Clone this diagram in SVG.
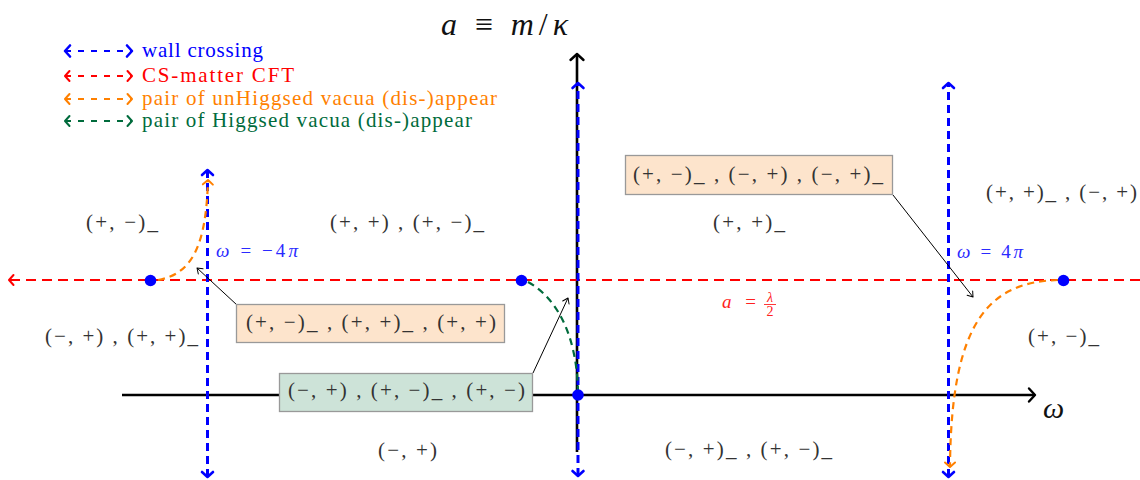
<svg xmlns="http://www.w3.org/2000/svg" width="1140" height="480" viewBox="0 0 1140 480">
<style>
.lab{font-family:"Liberation Serif","Times New Roman",serif;font-size:21px;fill:#333}
.leg{font-family:"Liberation Serif","Times New Roman",serif;font-size:21px}
.mth{font-family:"Liberation Serif","Times New Roman",serif}
.blue{stroke:#0000ff;stroke-width:3;stroke-dasharray:8 5;fill:none}
.red{stroke:#ff0000;stroke-width:2;stroke-dasharray:10 6;fill:none}
.orange{stroke:#ff8000;stroke-width:2.2;stroke-dasharray:7 5;fill:none}
.green{stroke:#006b3c;stroke-width:2.2;stroke-dasharray:7 5;fill:none}
.legline{stroke-width:2;stroke-dasharray:6 7}
.axis{stroke:#000;stroke-width:2.6;fill:none}
.ann{stroke:#000;stroke-width:1;fill:none}
.box1{fill:#fde4cc;stroke:#999;stroke-width:1.3}
.box2{fill:#cde3d8;stroke:#999;stroke-width:1.3}
.dot{fill:#0000ff}
</style>
<defs>
<marker id="mB" markerUnits="userSpaceOnUse" markerWidth="20" markerHeight="20" viewBox="-10 -10 20 20" refX="0" refY="0" orient="auto-start-reverse" overflow="visible"><path d="M-5,-5.5 L0,0 L-5,5.5" fill="none" stroke="#0000ff" stroke-width="2.6" stroke-linecap="round" stroke-linejoin="round"/></marker>
<marker id="mR" markerUnits="userSpaceOnUse" markerWidth="20" markerHeight="20" viewBox="-10 -10 20 20" refX="0" refY="0" orient="auto-start-reverse" overflow="visible"><path d="M-4.5,-5 L0,0 L-4.5,5" fill="none" stroke="#ff0000" stroke-width="2" stroke-linecap="round" stroke-linejoin="round"/></marker>
<marker id="mO" markerUnits="userSpaceOnUse" markerWidth="20" markerHeight="20" viewBox="-10 -10 20 20" refX="0" refY="0" orient="auto-start-reverse" overflow="visible"><path d="M-4.5,-5 L0,0 L-4.5,5" fill="none" stroke="#ff8000" stroke-width="2" stroke-linecap="round" stroke-linejoin="round"/></marker>
<marker id="mG" markerUnits="userSpaceOnUse" markerWidth="20" markerHeight="20" viewBox="-10 -10 20 20" refX="0" refY="0" orient="auto-start-reverse" overflow="visible"><path d="M-4.5,-5 L0,0 L-4.5,5" fill="none" stroke="#006b3c" stroke-width="2" stroke-linecap="round" stroke-linejoin="round"/></marker>
<marker id="mK" markerUnits="userSpaceOnUse" markerWidth="20" markerHeight="20" viewBox="-10 -10 20 20" refX="0" refY="0" orient="auto" overflow="visible"><path d="M-6,-6.5 L0,0 L-6,6.5" fill="none" stroke="#000" stroke-width="2.4" stroke-linecap="round" stroke-linejoin="round"/></marker>
<marker id="mT" markerUnits="userSpaceOnUse" markerWidth="20" markerHeight="20" viewBox="-10 -10 20 20" refX="0" refY="0" orient="auto" overflow="visible"><path d="M-5,-3.5 L0,0 L-5,3.5" fill="none" stroke="#000" stroke-width="1" stroke-linecap="round" stroke-linejoin="round"/></marker>
</defs>

<g id="legend">
  <line class="blue legline" x1="65" y1="51" x2="132" y2="51" marker-start="url(#mB)" marker-end="url(#mB)"/>
  <text class="leg" x="142" y="57" fill="#0000ff" textLength="121" lengthAdjust="spacing">wall crossing</text>
  <line class="red legline" x1="65" y1="76" x2="132" y2="76" marker-start="url(#mR)" marker-end="url(#mR)"/>
  <text class="leg" x="142" y="82" fill="#ff0000" textLength="152" lengthAdjust="spacing">CS-matter CFT</text>
  <line class="orange legline" x1="65" y1="99" x2="132" y2="99" marker-start="url(#mO)" marker-end="url(#mO)"/>
  <text class="leg" x="142" y="105" fill="#ff8000" textLength="355" lengthAdjust="spacing">pair of unHiggsed vacua (dis-)appear</text>
  <line class="green legline" x1="65" y1="121" x2="132" y2="121" marker-start="url(#mG)" marker-end="url(#mG)"/>
  <text class="leg" x="142" y="127" fill="#006b3c" textLength="330" lengthAdjust="spacing">pair of Higgsed vacua (dis-)appear</text>
</g>

<g id="connectors">
  <line id="omega-axis" class="axis" x1="122" y1="395" x2="1035" y2="395" marker-end="url(#mK)"/>
  <line id="a-axis" class="axis" x1="577" y1="452" x2="577" y2="54" marker-end="url(#mK)"/>
  <line id="cft-line" class="red" x1="1140" y1="280" x2="9" y2="280" marker-end="url(#mR)"/>
  <line id="wall-left" class="blue" x1="207.5" y1="477" x2="207.5" y2="170" marker-start="url(#mB)" marker-end="url(#mB)"/>
  <line id="wall-mid" class="blue" x1="578" y1="476" x2="578" y2="83" marker-start="url(#mB)" marker-end="url(#mB)"/>
  <line id="wall-right" class="blue" x1="948.5" y1="477" x2="948.5" y2="83" marker-start="url(#mB)" marker-end="url(#mB)"/>
  <path id="unhiggs-left" class="orange" d="M158,280 C190,274 206,250 208,180" marker-end="url(#mO)"/>
  <path id="unhiggs-right" class="orange" d="M1058,280 C990,282 951,320 950,467" marker-end="url(#mO)"/>
  <path id="higgs-mid" class="green" d="M528,282 C560,300 577,340 578,392"/>
  <line class="ann" x1="237" y1="305" x2="197" y2="268" marker-end="url(#mT)"/>
  <line class="ann" x1="533" y1="373" x2="568" y2="298" marker-end="url(#mT)"/>
  <line class="ann" x1="893" y1="195" x2="973" y2="297" marker-end="url(#mT)"/>
</g>

<g id="dots">
  <circle class="dot" cx="150.5" cy="280.5" r="5.8"/>
  <circle class="dot" cx="521.5" cy="280.5" r="5.8"/>
  <circle class="dot" cx="1063.5" cy="280.5" r="5.8"/>
  <circle class="dot" cx="578" cy="395" r="5.8"/>
</g>

<g id="axis-labels">
  <text class="mth" x="441" y="35" font-size="32" fill="#111" textLength="127" lengthAdjust="spacing"><tspan font-style="italic">a</tspan> ≡ <tspan font-style="italic">m</tspan>/<tspan font-style="italic">κ</tspan></text>
  <text class="mth" x="1043" y="418" font-size="30" font-style="italic" fill="#111">ω</text>
  <text class="mth" x="216" y="257" font-size="19" fill="#2a2aff" textLength="82" lengthAdjust="spacing"><tspan font-style="italic">ω</tspan> = −4<tspan font-style="italic">π</tspan></text>
  <text class="mth" x="957" y="258" font-size="19" fill="#2a2aff" textLength="66" lengthAdjust="spacing"><tspan font-style="italic">ω</tspan> = 4<tspan font-style="italic">π</tspan></text>
  <g id="cft-label" fill="#ff2020">
    <text class="mth" x="722" y="308" font-size="19" textLength="34" lengthAdjust="spacing"><tspan font-style="italic">a</tspan> =</text>
    <text class="mth" x="770" y="302" font-size="14" font-style="italic" text-anchor="middle">λ</text>
    <line x1="764" y1="304.5" x2="776" y2="304.5" stroke="#ff2020" stroke-width="0.9"/>
    <text class="mth" x="770" y="316" font-size="14" text-anchor="middle">2</text>
  </g>
</g>

<g id="region-labels">
  <text class="lab" x="86" y="229" textLength="72" lengthAdjust="spacing">(+, −)_</text>
  <text class="lab" x="330" y="229" textLength="154" lengthAdjust="spacing">(+, +) , (+, −)_</text>
  <text class="lab" x="713" y="229" textLength="72" lengthAdjust="spacing">(+, +)_</text>
  <text class="lab" x="986" y="199" textLength="151" lengthAdjust="spacing">(+, +)_ , (−, +)</text>
  <text class="lab" x="45" y="343" textLength="153" lengthAdjust="spacing">(−, +) , (+, +)_</text>
  <text class="lab" x="1028" y="343" textLength="71" lengthAdjust="spacing">(+, −)_</text>
  <text class="lab" x="378" y="457" textLength="59" lengthAdjust="spacing">(−, +)</text>
  <text class="lab" x="665" y="456" textLength="167" lengthAdjust="spacing">(−, +)_ , (+, −)_</text>
</g>

<g id="box-left">
  <rect class="box1" x="236.5" y="304.5" width="268" height="38"/>
  <text class="lab" x="246" y="329" textLength="250" lengthAdjust="spacing">(+, −)_ , (+, +)_ , (+, +)</text>
</g>
<g id="box-mid">
  <rect class="box2" x="279.5" y="373.5" width="253" height="38"/>
  <text class="lab" x="288" y="397" textLength="237" lengthAdjust="spacing">(−, +) , (+, −)_ , (+, −)</text>
</g>
<g id="box-right">
  <rect class="box1" x="625.5" y="155.5" width="267" height="39"/>
  <text class="lab" x="633" y="181" textLength="250" lengthAdjust="spacing">(+, −)_ , (−, +) , (−, +)_</text>
</g>
</svg>
